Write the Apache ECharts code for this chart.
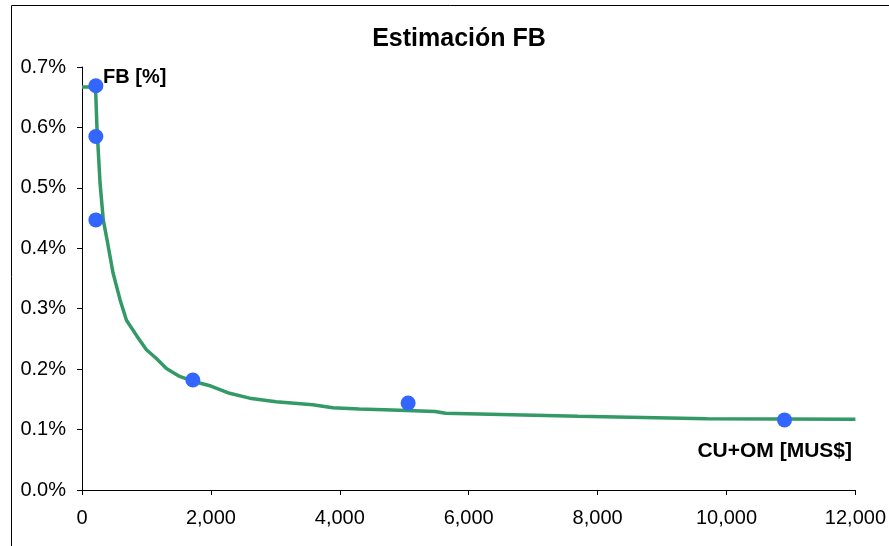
<!DOCTYPE html>
<html>
<head>
<meta charset="utf-8">
<script src="https://cdn.jsdelivr.net/npm/echarts@6/dist/echarts.min.js"></script>
<style>
html,body{margin:0;padding:0;background:#fff;}
#chart{width:889px;height:546px;}
</style>
</head>
<body>
<div id="chart"></div>
<script>
// Fitted curve (CU+OM [MUS$] vs FB [%])
const curveX = [0, 210, 232, 280, 330, 380, 480, 590, 690, 850, 1000, 1150, 1310, 1515, 1720, 2000, 2290, 2600, 3010, 3580, 3890, 4300, 4810, 5480, 5640, 6500, 7700, 9700, 12000];
const curveY = [0.667, 0.667, 0.60, 0.508, 0.447, 0.419, 0.36, 0.315, 0.281, 0.255, 0.232, 0.218, 0.201, 0.188, 0.180, 0.172, 0.160, 0.152, 0.146, 0.141, 0.136, 0.134, 0.1325, 0.130, 0.127, 0.125, 0.122, 0.118, 0.117];
// Observed points
const pointX = [215, 215, 215, 1720, 5060, 10900];
const pointY = [0.669, 0.585, 0.447, 0.182, 0.144, 0.116];
// Axis ticks
const xTicks = [0, 2000, 4000, 6000, 8000, 10000, 12000];
const yTicks = [0, 0.1, 0.2, 0.3, 0.4, 0.5, 0.6, 0.7];

const titleText = 'Estimación FB';
const yName = 'FB [%]';
const xName = 'CU+OM [MUS$]';

const chart = echarts.init(document.getElementById('chart'), null, {renderer: 'canvas'});
const font = '"Liberation Sans", Arial, sans-serif';

chart.setOption({
  animation: false,
  backgroundColor: '#fff',
  title: {
    text: titleText,
    left: 454, top: 22, textAlign: 'center',
    textStyle: {fontFamily: font, fontSize: 25, fontWeight: 'bold', color: '#000'}
  },
  grid: {left: 82, right: 31, top: 67, bottom: 56, containLabel: false},
  xAxis: {
    type: 'value', min: xTicks[0], max: xTicks[xTicks.length - 1], interval: 2000,
    axisLine: {show: true, onZero: false, lineStyle: {color: '#000', width: 1}},
    axisTick: {show: true, inside: false, length: 5, lineStyle: {color: '#000'}},
    splitLine: {show: false},
    axisLabel: {
      margin: 18, fontFamily: font, fontSize: 20, color: '#000',
      formatter: v => v.toLocaleString('en-US')
    }
  },
  yAxis: {
    type: 'value', min: yTicks[0], max: yTicks[yTicks.length - 1], interval: 0.1,
    axisLine: {show: true, lineStyle: {color: '#000', width: 1}},
    axisTick: {show: true, inside: false, length: 5, lineStyle: {color: '#000'}},
    splitLine: {show: false},
    axisLabel: {
      margin: 16, fontFamily: font, fontSize: 20, color: '#000',
      formatter: v => v.toFixed(1) + '%'
    }
  },
  series: [
    {
      type: 'line', name: 'curve',
      data: curveX.map((x, i) => [x, curveY[i]]),
      showSymbol: false, symbol: 'none', smooth: false,
      lineStyle: {color: '#339966', width: 3.5},
      z: 2
    },
    {
      type: 'scatter', name: 'points',
      data: pointX.map((x, i) => [x, pointY[i]]),
      symbol: 'circle', symbolSize: 15,
      itemStyle: {color: '#3366FF', opacity: 1},
      z: 3
    }
  ],
  graphic: [
    {
      type: 'rect', left: 9, top: 3, z: 100, silent: true,
      shape: {width: 900, height: 600},
      style: {fill: 'none', stroke: '#000', lineWidth: 1}
    },
    {
      type: 'text', left: 103, top: 67, z: 100,
      style: {text: yName, font: 'bold 20px ' + font, fill: '#000'}
    },
    {
      type: 'text', right: 37, top: 441, z: 100,
      style: {text: xName, font: 'bold 21px ' + font, fill: '#000'}
    }
  ]
});
</script>
</body>
</html>
